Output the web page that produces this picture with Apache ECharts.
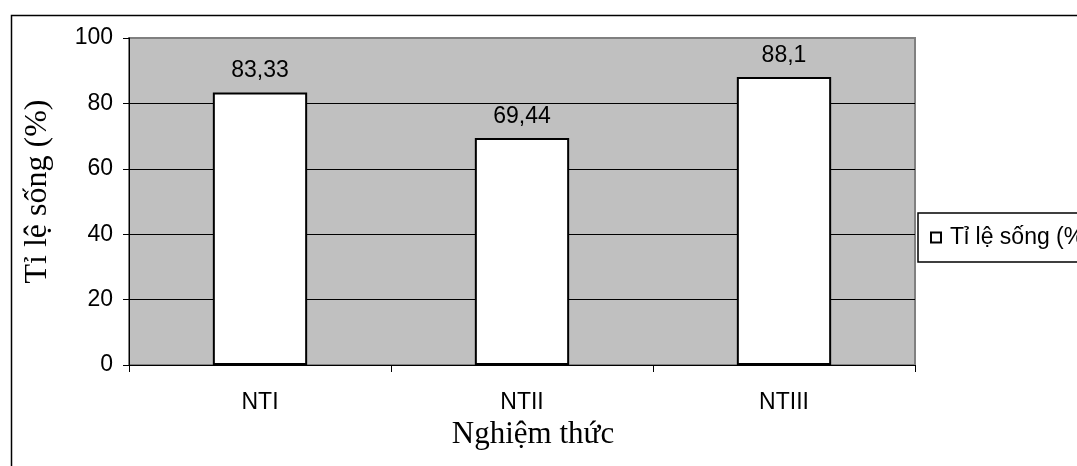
<!DOCTYPE html>
<html>
<head>
<meta charset="utf-8">
<script src="https://cdn.jsdelivr.net/npm/echarts@6/dist/echarts.min.js"></script>
<style>
  html, body { margin: 0; padding: 0; background: #fff; }
  #chart { width: 1077px; height: 466px; }
</style>
</head>
<body>
<div id="chart"></div>
<script>
// Survival rate per treatment
const categories = ['NTI', 'NTII', 'NTIII'];
const survivalRate = [83.33, 69.44, 88.1];
const seriesName = 'Tỉ lệ sống (%)';
const xTitle = 'Nghiệm thức';
const yTitle = 'Tỉ lệ sống (%)';

const sans = '"Liberation Sans", Arial, sans-serif';
const serif = '"Liberation Serif", "Times New Roman", serif';

const chart = echarts.init(document.getElementById('chart'), null, { renderer: 'canvas' });

chart.setOption({
  animation: false,
  backgroundColor: '#ffffff',
  graphic: [{
    type: 'rect',
    left: 9, top: 13,
    shape: { width: 1300, height: 700 },
    style: { fill: 'none', stroke: '#000', lineWidth: 1.5 },
    z: 100
  }],
  grid: {
    left: 129, right: 162, top: 38, bottom: 101,
    show: true,
    backgroundColor: '#C0C0C0',
    borderColor: '#808080',
    borderWidth: 2
  },
  legend: {
    left: 918, top: 213,
    padding: [13, 40, 13, 12],
    borderColor: '#000',
    borderWidth: 1.5,
    backgroundColor: '#fff',
    icon: 'rect',
    itemWidth: 10, itemHeight: 10,
    textStyle: { fontFamily: sans, fontSize: 23, color: '#000', padding: [0, 0, 0, 4] },
    data: [seriesName]
  },
  xAxis: {
    type: 'category',
    data: categories,
    name: xTitle,
    nameLocation: 'middle',
    nameGap: 54,
    nameTextStyle: { fontFamily: serif, fontSize: 31, color: '#000', padding: [0, 0, 0, 22] },
    axisLine: { lineStyle: { color: '#000', width: 1 } },
    axisTick: { show: true, length: 7, lineStyle: { color: '#000' } },
    axisLabel: { fontFamily: sans, fontSize: 23, color: '#000', margin: 26 },
    splitLine: { show: false }
  },
  yAxis: {
    type: 'value',
    min: 0, max: 100, interval: 20,
    name: yTitle,
    nameLocation: 'middle',
    nameGap: 75,
    nameTextStyle: { fontFamily: serif, fontSize: 32, color: '#000', padding: [0, 0, 0, 20] },
    axisLine: { show: true, lineStyle: { color: '#000', width: 1 } },
    axisTick: { show: true, length: 6, lineStyle: { color: '#000' } },
    axisLabel: { fontFamily: sans, fontSize: 23, color: '#000', margin: 16 },
    splitLine: { show: true, showMaxLine: false, showMinLine: false, lineStyle: { color: '#000', width: 1 } }
  },
  series: [{
    name: seriesName,
    type: 'bar',
    data: survivalRate,
    barCategoryGap: '64%',
    itemStyle: { color: '#ffffff', borderColor: '#000', borderWidth: 2 },
    label: {
      show: true,
      position: 'top',
      distance: 10,
      fontFamily: sans,
      fontSize: 23,
      color: '#000',
      formatter: p => String(p.value).replace('.', ',')
    }
  }]
});
</script>
</body>
</html>
